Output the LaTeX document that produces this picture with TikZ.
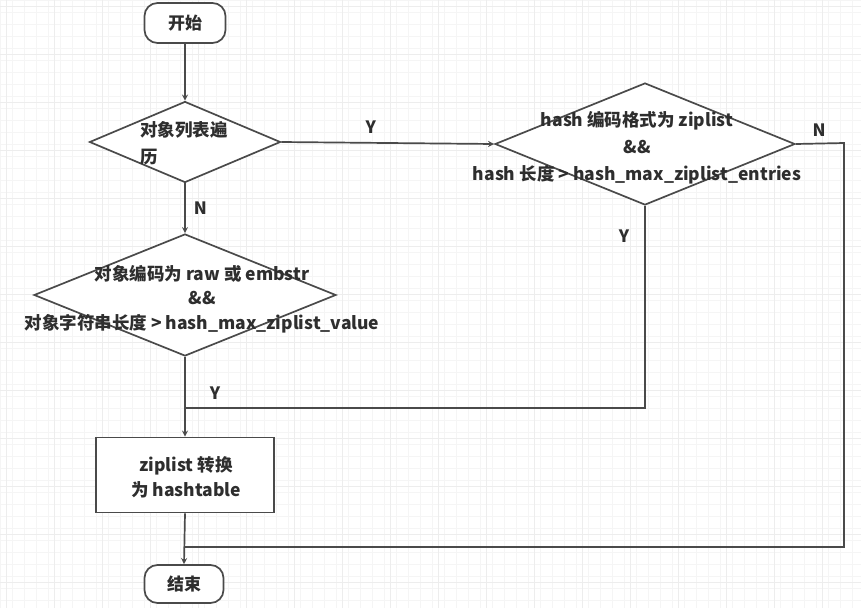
\documentclass[tikz,border=0pt]{standalone}
\usepackage{fontspec}
\setmainfont{Noto Sans CJK SC}
\usetikzlibrary{shapes.geometric}
\definecolor{linegray}{HTML}{4A4A4A}
\definecolor{textgray}{HTML}{2E2E2E}
\tikzset{
  flowline/.style={draw=linegray, line width=1.7pt},
  termbox/.style={draw=linegray, line width=1.7pt, rectangle, rounded corners=13pt, fill=white, minimum width=81pt, minimum height=40pt, inner sep=0pt},
  decbox/.style={draw=linegray, line width=1.7pt, diamond, fill=white, inner sep=0pt},
  procbox/.style={draw=linegray, line width=1.7pt, rectangle, fill=white, minimum width=178pt, minimum height=75pt, inner sep=0pt},
  txt/.style={text=textgray, font=\fontsize{17.5}{27}\selectfont\bfseries, align=center, inner sep=0pt},
  lbl/.style={text=textgray, font=\fontsize{17}{20}\selectfont\bfseries, inner sep=0pt}
}
\begin{document}
\begin{tikzpicture}[x=1pt, y=-1pt, >=stealth]
				% 背景与网格
				\useasboundingbox (0,0) rectangle (861,608);
				\fill[white] (0,0) rectangle (861,608);
				\foreach \gx in {0,12,...,860} \draw[black!4, line width=0.6pt] (\gx,0) -- (\gx,608);
				\foreach \gy in {0,12,...,607} \draw[black!4, line width=0.6pt] (0,\gy) -- (861,\gy);
				\foreach \gx in {6,54,...,860} \draw[black!7, line width=0.8pt] (\gx,0) -- (\gx,608);
				\foreach \gy in {6,54,...,607} \draw[black!7, line width=0.8pt] (0,\gy) -- (861,\gy);
				
				% 节点
				\node[termbox] (start) at (185,23) {};
				\node[lbl] at (start) {开始};
				\node[decbox, minimum width=191pt, minimum height=81pt] (listloop) at (185,142) {};
				\node[txt, align=left] at (184,143) {对象列表遍\\历};
				\node[decbox, minimum width=300pt, minimum height=122pt] (hashcheck) at (645,144) {};
				\node[txt] at (637,148) {hash 编码格式为 ziplist\\\&\&\\hash 长度 > hash\_max\_ziplist\_entries};
				\node[decbox, minimum width=302pt, minimum height=122pt] (objcheck) at (185,295) {};
				\node[txt, font=\fontsize{17.5}{24.5}\selectfont\bfseries] at (202,299) {对象编码为 raw 或 embstr\\\&\&\\对象字符串长度 > hash\_max\_ziplist\_value};
				\node[procbox] (convert) at (185,475) {};
				\node[txt, font=\fontsize{17.5}{25}\selectfont\bfseries] at (186,477) {ziplist 转换\\为 hashtable};
				\node[termbox, minimum width=79pt, minimum height=38pt] (finish) at (184,584) {};
				\node[lbl] at (finish) {结束};
				
				% 汇合点
				\coordinate (joinY) at (185,408);
				\coordinate (joinN) at (185,547);
				\coordinate (rightN) at (844,143);
				
				% 连线
				\draw[flowline, ->] (start) -- (listloop);
				\draw[flowline, ->] (listloop.east) -- node[lbl, above=8pt, pos=0.42] {Y} (hashcheck.west);
				\draw[flowline, ->] (listloop.south) -- node[lbl, right=8pt] {N} (objcheck.north);
				\draw[flowline, ->] (objcheck.south) -- (convert.north);
				\node[lbl] at (215,393) {Y};
				\draw[flowline] (hashcheck.south) -- (hashcheck.south |- joinY) -- (joinY);
				\node[lbl] at (624,236) {Y};
				\draw[flowline] (hashcheck.east) -- (rightN) -- (rightN |- joinN) -- (joinN);
				\node[lbl] at (819,130) {N};
				\draw[flowline, ->] (convert.south) -- (finish.north);
			\end{tikzpicture}
\end{document}
